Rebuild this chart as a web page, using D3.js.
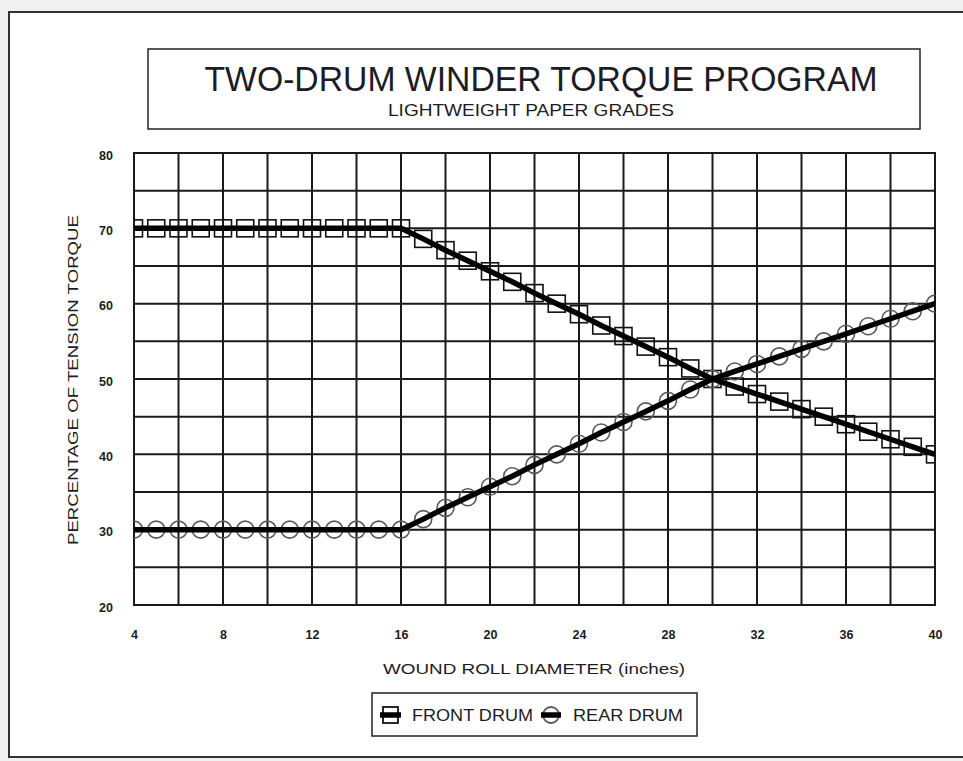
<!DOCTYPE html>
<html>
<head>
<meta charset="utf-8">
<script src="https://cdn.jsdelivr.net/npm/d3@7"></script>
<style>
  html, body { margin: 0; padding: 0; background: #f0f0f0; }
  svg { display: block; }
  text { font-family: "Liberation Sans", Arial, sans-serif; fill: #1c1c24; }
</style>
</head>
<body>
<svg id="chart" width="963" height="761"></svg>
<script>
// ---- data ----
const diameters = [4,5,6,7,8,9,10,11,12,13,14,15,16,17,18,19,20,21,22,23,24,25,26,27,28,29,30,31,32,33,34,35,36,37,38,39,40];
const frontDrum = [70,70,70,70,70,70,70,70,70,70,70,70,70,68.6,67.1,65.7,64.3,62.9,61.4,60.0,58.6,57.1,55.7,54.3,52.9,51.4,50,49,48,47,46,45,44,43,42,41,40];
const rearDrum  = [30,30,30,30,30,30,30,30,30,30,30,30,30,31.4,32.9,34.3,35.7,37.1,38.6,40.0,41.4,42.9,44.3,45.7,47.1,48.6,50,51,52,53,54,55,56,57,58,59,60];
const xTicks = [4,8,12,16,20,24,28,32,36,40];
const yTicks = [20,30,40,50,60,70,80];
const xGrid = [4,6,8,10,12,14,16,18,20,22,24,26,28,30,32,34,36,38,40];
const yGrid = [20,25,30,35,40,45,50,55,60,65,70,75,80];
const title = "TWO-DRUM WINDER TORQUE PROGRAM";
const subtitle = "LIGHTWEIGHT PAPER GRADES";
const xLabel = "WOUND ROLL DIAMETER (inches)";
const yLabel = "PERCENTAGE OF TENSION TORQUE";
const seriesNames = ["FRONT DRUM", "REAR DRUM"];

// ---- drawing ----
const svg = d3.select("#chart");
const x = d3.scaleLinear().domain([4, 40]).range([134, 935]);
const y = d3.scaleLinear().domain([20, 80]).range([605, 153]);

svg.append("defs").append("clipPath").attr("id", "plotclip")
  .append("rect").attr("x", x(4)).attr("y", y(80) - 2).attr("width", x(40) - x(4)).attr("height", y(20) - y(80) + 4);

// outer panel
svg.append("rect").attr("x", 9).attr("y", 12).attr("width", 1000).attr("height", 745)
  .attr("fill", "#fff").attr("stroke", "#333").attr("stroke-width", 2);

// title box
svg.append("rect").attr("x", 148).attr("y", 49).attr("width", 772).attr("height", 80)
  .attr("fill", "none").attr("stroke", "#222").attr("stroke-width", 1.5);
svg.append("text").attr("x", 541).attr("y", 91).attr("text-anchor", "middle")
  .attr("font-size", 35).attr("textLength", 673).attr("lengthAdjust", "spacingAndGlyphs")
  .text(title);
svg.append("text").attr("x", 531).attr("y", 116).attr("text-anchor", "middle")
  .attr("font-size", 16.5).attr("textLength", 286).attr("lengthAdjust", "spacingAndGlyphs")
  .text(subtitle);

// grid
const g = svg.append("g");
g.selectAll("line.v").data(xGrid).join("line").attr("class", "v")
  .attr("x1", d => x(d)).attr("x2", d => x(d)).attr("y1", y(80)).attr("y2", y(20))
  .attr("stroke", "#1a1a1a").attr("stroke-width", 2);
g.selectAll("line.h").data(yGrid).join("line").attr("class", "h")
  .attr("y1", d => y(d)).attr("y2", d => y(d)).attr("x1", x(4) - 1).attr("x2", x(40) + 1)
  .attr("stroke", "#1a1a1a").attr("stroke-width", 2);

// axes (labels only)
const xAxis = d3.axisBottom(x).tickValues(xTicks).tickSize(0).tickPadding(0).tickFormat(d3.format("d"));
const gx = svg.append("g").attr("transform", "translate(0,630)").call(xAxis);
gx.select(".domain").remove();
gx.selectAll("text").attr("font-size", 12.5).attr("font-weight", "bold").attr("dy", "0.71em")
  .attr("font-family", "Liberation Sans, Arial, sans-serif").attr("fill", "#1c1c24");

const yAxis = d3.axisLeft(y).tickValues(yTicks).tickSize(0).tickPadding(0).tickFormat(d3.format("d"));
const gy = svg.append("g").attr("transform", "translate(113,2)").call(yAxis);
gy.select(".domain").remove();
gy.selectAll("text").attr("font-size", 12.5).attr("font-weight", "bold")
  .attr("font-family", "Liberation Sans, Arial, sans-serif").attr("fill", "#1c1c24");

// axis titles
svg.append("text").attr("x", 534).attr("y", 674).attr("text-anchor", "middle")
  .attr("font-size", 15).attr("textLength", 302).attr("lengthAdjust", "spacingAndGlyphs")
  .text(xLabel);
svg.append("text").attr("transform", "translate(78,380) rotate(-90)").attr("text-anchor", "middle")
  .attr("font-size", 15).attr("textLength", 330).attr("lengthAdjust", "spacingAndGlyphs")
  .text(yLabel);

// markers + lines (clipped to plot area)
const plot = svg.append("g").attr("clip-path", "url(#plotclip)");
const S = 17;
plot.append("g").selectAll("rect").data(diameters).join("rect")
  .attr("x", (d, i) => x(d) - S / 2).attr("y", (d, i) => y(frontDrum[i]) - S / 2)
  .attr("width", S).attr("height", S)
  .attr("fill", "none").attr("stroke", "#111").attr("stroke-width", 1.6);
plot.append("g").selectAll("circle").data(diameters).join("circle")
  .attr("cx", d => x(d)).attr("cy", (d, i) => y(rearDrum[i])).attr("r", 8.5)
  .attr("fill", "none").attr("stroke", "#5a5a5a").attr("stroke-width", 1.6);

const line = d3.line().x(d => x(d[0])).y(d => y(d[1]));
[frontDrum, rearDrum].forEach(vals => {
  plot.append("path").datum(diameters.map((d, i) => [d, vals[i]]))
    .attr("d", line).attr("fill", "none").attr("stroke", "#000")
    .attr("stroke-width", 5.5).attr("stroke-linejoin", "round");
});

// legend
svg.append("rect").attr("x", 372).attr("y", 693).attr("width", 325).attr("height", 43)
  .attr("fill", "none").attr("stroke", "#222").attr("stroke-width", 1.5);
const ly = 715;
svg.append("rect").attr("x", 383).attr("y", ly - 8).attr("width", 15).attr("height", 16)
  .attr("fill", "none").attr("stroke", "#111").attr("stroke-width", 1.8);
svg.append("line").attr("x1", 380).attr("x2", 401).attr("y1", ly).attr("y2", ly)
  .attr("stroke", "#000").attr("stroke-width", 5.5);
svg.append("text").attr("x", 412).attr("y", 721).attr("font-size", 16)
  .attr("textLength", 121).attr("lengthAdjust", "spacingAndGlyphs").text(seriesNames[0]);
svg.append("circle").attr("cx", 551).attr("cy", ly).attr("r", 8)
  .attr("fill", "none").attr("stroke", "#5a5a5a").attr("stroke-width", 1.8);
svg.append("line").attr("x1", 541).attr("x2", 561).attr("y1", ly).attr("y2", ly)
  .attr("stroke", "#000").attr("stroke-width", 5.5);
svg.append("text").attr("x", 573).attr("y", 721).attr("font-size", 16)
  .attr("textLength", 110).attr("lengthAdjust", "spacingAndGlyphs").text(seriesNames[1]);
</script>
</body>
</html>
